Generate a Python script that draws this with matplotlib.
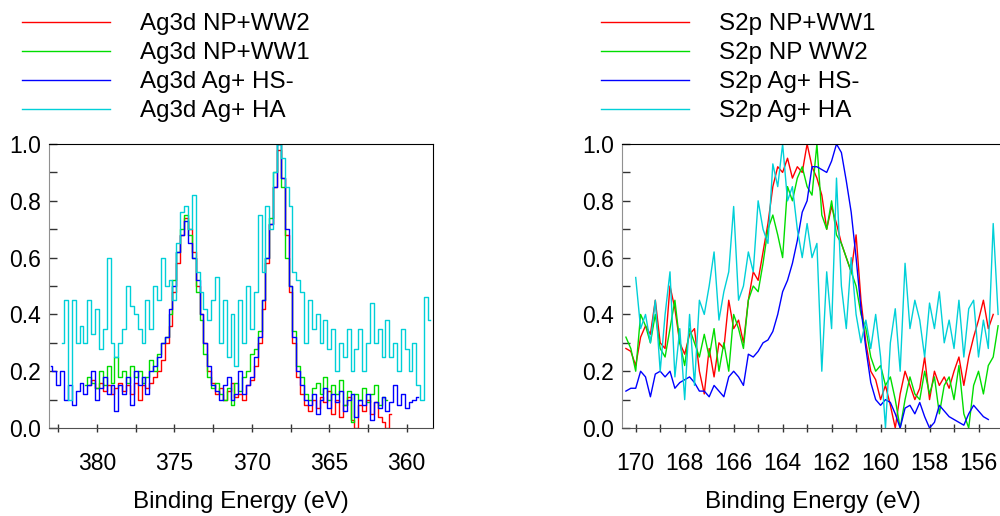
import numpy as np
import matplotlib
matplotlib.use('Agg')
import matplotlib.pyplot as plt
from matplotlib.ticker import MultipleLocator

plt.rcParams['font.family'] = ['Liberation Sans', 'DejaVu Sans']

# ---------------- Ag3d (panel izquierdo) ----------------
paso_ag = 0.25
inicio_ag_hs = 383.0     # HS- (azul)
inicio_ag_ww2 = 380.5    # NP+WW2 (rojo)
inicio_ag_ww1 = 380.75   # NP+WW1 (verde)
inicio_ag_ha = 382.25    # HA (cian)

ag_ww2 = [0.15, 0.17, 0.14, 0.16, 0.13, 0.15, 0.12, 0.14, 0.16, 0.13,
          0.15, 0.12, 0.16, 0.10, 0.15, 0.14, 0.16, 0.18, 0.20, 0.24,
          0.30, 0.36, 0.48, 0.58, 0.68, 0.74, 0.70, 0.62, 0.50, 0.40,
          0.30, 0.20, 0.16, 0.12, 0.14, 0.10, 0.13, 0.16, 0.11, 0.12,
          0.10, 0.15, 0.17, 0.22, 0.30, 0.42, 0.58, 0.72, 0.85, 0.98,
          0.88, 0.68, 0.48, 0.30, 0.18, 0.12, 0.08, 0.06, 0.10, 0.07,
          0.11, 0.09, 0.13, 0.05, 0.10, 0.04, 0.08, 0.11, 0.03, 0.00,
          0.08, 0.06, 0.10, 0.05, 0.09, 0.04, 0.02, 0.00, 0.05]

ag_ww1 = [0.15,
          0.18, 0.16, 0.14, 0.20, 0.15, 0.22, 0.16, 0.25, 0.18, 0.20,
          0.16, 0.22, 0.18, 0.20, 0.16, 0.18, 0.24, 0.20, 0.26, 0.30,
          0.32, 0.40, 0.52, 0.62, 0.70, 0.75, 0.68, 0.60, 0.48, 0.38,
          0.26, 0.18, 0.14, 0.16, 0.12, 0.10, 0.14, 0.08, 0.16, 0.13,
          0.18, 0.20, 0.26, 0.28, 0.34, 0.45, 0.60, 0.74, 0.90, 1.00,
          0.85, 0.60, 0.50, 0.34, 0.22, 0.18, 0.12, 0.10, 0.14, 0.16,
          0.12, 0.18, 0.10, 0.15, 0.12, 0.17, 0.08, 0.13, 0.02, 0.12,
          0.10, 0.14, 0.09, 0.12, 0.15, 0.08, 0.11, 0.10]

ag_hs = [0.22, 0.20, 0.15, 0.20, 0.10, 0.15, 0.08, 0.13, 0.16, 0.12,
         0.15, 0.20, 0.10, 0.14, 0.18, 0.12, 0.15, 0.06, 0.15, 0.12,
         0.18, 0.08, 0.20, 0.15, 0.18, 0.12, 0.20, 0.22, 0.25, 0.30,
         0.32, 0.42, 0.50, 0.62, 0.68, 0.73, 0.65, 0.60, 0.52, 0.40,
         0.30, 0.22, 0.15, 0.13, 0.10, 0.15, 0.18, 0.10, 0.12, 0.20,
         0.12, 0.15, 0.18, 0.25, 0.32, 0.45, 0.60, 0.72, 0.85, 1.00,
         0.88, 0.70, 0.50, 0.32, 0.20, 0.15, 0.10, 0.08, 0.12, 0.05,
         0.10, 0.14, 0.07, 0.12, 0.09, 0.13, 0.06, 0.10, 0.12, 0.04,
         0.10, 0.08, 0.12, 0.03, 0.09, 0.07, 0.11, 0.06, 0.09, 0.15,
         0.08, 0.12, 0.07, 0.09, 0.10, 0.11]

ag_ha = [0.30, 0.45, 0.10, 0.45, 0.30, 0.36, 0.30, 0.45, 0.33, 0.42,
         0.28, 0.35, 0.60, 0.30, 0.25, 0.30, 0.35, 0.50, 0.43, 0.40,
         0.35, 0.30, 0.45, 0.35, 0.50, 0.45, 0.60, 0.50, 0.52, 0.45,
         0.65, 0.76, 0.78, 0.70, 0.82, 0.55, 0.48, 0.42, 0.38, 0.45,
         0.53, 0.30, 0.45, 0.25, 0.40, 0.22, 0.45, 0.30, 0.50, 0.35,
         0.48, 0.75, 0.55, 0.78, 0.70, 0.90, 1.00, 0.95, 0.85, 0.78,
         0.55, 0.52, 0.48, 0.30, 0.45, 0.35, 0.40, 0.30, 0.38, 0.28,
         0.35, 0.20, 0.30, 0.25, 0.35, 0.20, 0.28, 0.35, 0.20, 0.30,
         0.44, 0.30, 0.35, 0.25, 0.38, 0.25, 0.30, 0.20, 0.35, 0.28,
         0.20, 0.30, 0.15, 0.10, 0.46, 0.38]

# ---------------- S2p (panel derecho) ----------------
paso_s = 0.2
inicio_s = 170.4         # rojo, verde, azul
inicio_s_ha = 170.0      # cian

s_ww1 = [0.28, 0.27, 0.22, 0.32, 0.36, 0.33, 0.45, 0.30, 0.28, 0.50,
         0.42, 0.30, 0.26, 0.33, 0.35, 0.20, 0.12, 0.28, 0.18, 0.30,
         0.28, 0.45, 0.35, 0.38, 0.30, 0.45, 0.55, 0.52, 0.62, 0.72,
         0.85, 0.92, 0.90, 0.95, 0.88, 0.92, 0.90, 1.00, 0.92, 0.88,
         0.82, 0.70, 0.78, 0.72, 0.65, 0.60, 0.55, 0.68, 0.45, 0.30,
         0.20, 0.17, 0.10, 0.15, 0.08, 0.00, 0.12, 0.20, 0.15, 0.10,
         0.14, 0.25, 0.10, 0.20, 0.15, 0.18, 0.14, 0.20, 0.25, 0.15,
         0.25, 0.32, 0.38, 0.45, 0.35, 0.40]

s_ww2 = [0.32, 0.28, 0.20, 0.40, 0.36, 0.30, 0.40, 0.28, 0.25, 0.35,
         0.45, 0.30, 0.22, 0.35, 0.30, 0.25, 0.33, 0.25, 0.35, 0.20,
         0.30, 0.20, 0.40, 0.35, 0.28, 0.45, 0.50, 0.48, 0.58, 0.70,
         0.75, 0.68, 0.60, 0.85, 0.80, 0.88, 0.92, 0.85, 0.82, 1.00,
         0.75, 0.70, 0.80, 0.68, 0.65, 0.60, 0.55, 0.50, 0.40, 0.35,
         0.25, 0.20, 0.22, 0.15, 0.18, 0.10, 0.00, 0.10, 0.18, 0.12,
         0.10, 0.20, 0.12, 0.18, 0.05, 0.15, 0.18, 0.10, 0.22, 0.05,
         0.00, 0.15, 0.20, 0.12, 0.22, 0.25, 0.36]

s_hs = [0.13, 0.14, 0.14, 0.20, 0.18, 0.11, 0.19, 0.20, 0.18, 0.20,
        0.14, 0.16, 0.17, 0.18, 0.16, 0.13, 0.13, 0.11, 0.15, 0.13,
        0.11, 0.18, 0.20, 0.18, 0.15, 0.26, 0.25, 0.27, 0.30, 0.31,
        0.34, 0.40, 0.48, 0.52, 0.58, 0.66, 0.76, 0.80, 0.92, 0.92,
        0.91, 0.90, 0.94, 1.00, 0.97, 0.87, 0.76, 0.60, 0.42, 0.28,
        0.16, 0.10, 0.08, 0.10, 0.09, 0.05, 0.00, 0.07, 0.08, 0.05,
        0.09, 0.04, 0.00, 0.02, 0.08, 0.06, 0.04, 0.03, 0.02, 0.01,
        0.05, 0.08, 0.06, 0.04, 0.03]

s_ha = [0.53, 0.35, 0.40, 0.30, 0.45, 0.20, 0.40, 0.55, 0.18, 0.35,
        0.10, 0.40, 0.15, 0.45, 0.40, 0.50, 0.62, 0.38, 0.48, 0.55,
        0.78, 0.45, 0.50, 0.62, 0.55, 0.80, 0.70, 0.65, 0.93, 0.85,
        1.00, 0.80, 0.85, 0.70, 0.60, 0.72, 0.60, 0.65, 0.20, 0.55,
        0.35, 0.88, 0.50, 0.35, 0.60, 0.40, 0.30, 0.38, 0.28, 0.40,
        0.25, 0.00, 0.30, 0.42, 0.20, 0.58, 0.35, 0.45, 0.38, 0.25,
        0.44, 0.35, 0.48, 0.30, 0.38, 0.28, 0.45, 0.25, 0.42, 0.45,
        0.25, 0.38, 0.28, 0.72, 0.40]

etiquetas_ag = ['Ag3d NP+WW2', 'Ag3d NP+WW1', 'Ag3d Ag+ HS-', 'Ag3d Ag+ HA']
etiquetas_s = ['S2p NP+WW1', 'S2p NP WW2', 'S2p Ag+ HS-', 'S2p Ag+ HA']
colores = ['#ff0000', '#00dd00', '#0000ff', '#00d0d8']


def energias(inicio, paso, valores):
    return inicio - paso * np.arange(len(valores))


def formato_ejes(ax, mayor_x, menor_x):
    ax.set_ylim(0, 1.0)
    ax.yaxis.set_major_locator(MultipleLocator(0.2))
    ax.yaxis.set_minor_locator(MultipleLocator(0.1))
    ax.xaxis.set_major_locator(MultipleLocator(mayor_x))
    ax.xaxis.set_minor_locator(MultipleLocator(menor_x))
    ax.yaxis.set_major_formatter(plt.FuncFormatter(lambda v, p: f'{v:.1f}'))
    ax.tick_params(axis='y', which='both', direction='in', length=6, width=1,
                   labelsize=16.5, pad=6, color='#333333')
    ax.tick_params(axis='x', which='both', direction='inout', length=6, width=1,
                   labelsize=16.5, pad=14, color='#333333')
    ax.spines['left'].set_color('#909090')
    ax.spines['bottom'].set_color('#505050')
    ax.spines['top'].set_color('black')
    ax.spines['right'].set_color('black')
    ax.set_xlabel('Binding Energy (eV)', fontsize=17.4, labelpad=12)


fig = plt.figure(figsize=(10, 5.16), dpi=100)
ax1 = fig.add_axes([0.049, 0.1705, 0.384, 0.5504])
ax2 = fig.add_axes([0.622, 0.1705, 0.381, 0.5504])

series_ag = [(inicio_ag_ww2, ag_ww2), (inicio_ag_ww1, ag_ww1),
             (inicio_ag_hs, ag_hs), (inicio_ag_ha, ag_ha)]
for (ini, vals), col, lab in zip(series_ag, colores, etiquetas_ag):
    ax1.plot(energias(ini, paso_ag, vals), vals, color=col, lw=1.0,
             drawstyle='steps-mid', label=lab)
ax1.set_xlim(383.1, 358.3)
formato_ejes(ax1, 5, 2.5)

series_s = [(inicio_s, s_ww1), (inicio_s, s_ww2), (inicio_s, s_hs), (inicio_s_ha, s_ha)]
for (ini, vals), col, lab in zip(series_s, colores, etiquetas_s):
    ax2.plot(energias(ini, paso_s, vals), vals, color=col, lw=1.0, label=lab)
ax2.set_xlim(170.56, 155.0)
formato_ejes(ax2, 2, 1)

for ax, x0 in [(ax1, 22 / 1000), (ax2, 601 / 1000)]:
    ax.legend(loc='upper left', bbox_to_anchor=(x0, 1 - 13 / 516),
              bbox_transform=fig.transFigure, frameon=False, fontsize=17.4,
              handlelength=3.64, handletextpad=1.24, labelspacing=0.29,
              borderpad=0, borderaxespad=0)

fig.savefig('out.png', dpi=100)
